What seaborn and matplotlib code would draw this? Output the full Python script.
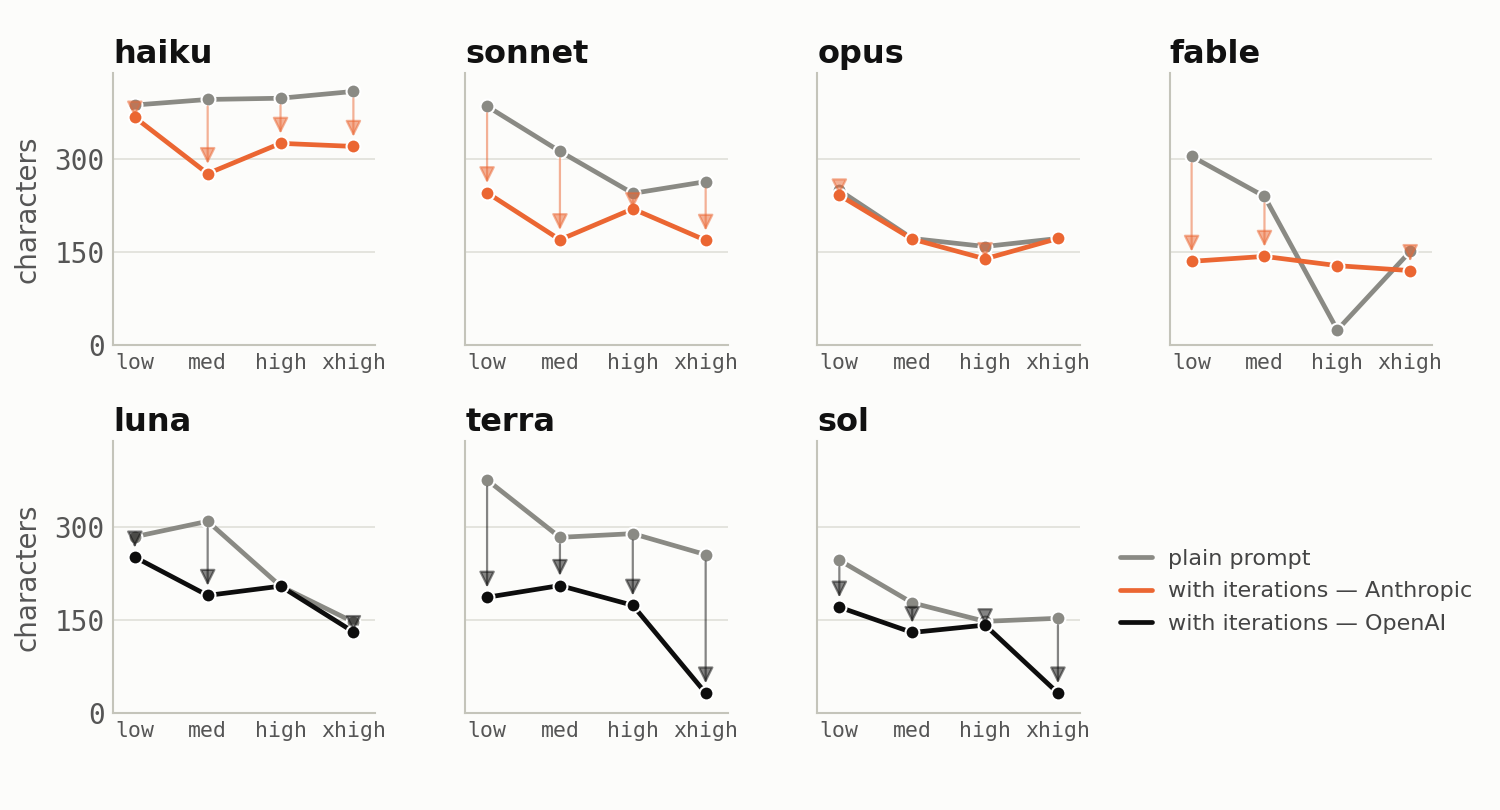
import matplotlib
matplotlib.use("Agg")
import matplotlib.pyplot as plt
from matplotlib.lines import Line2D
import pandas as pd
import seaborn as sns

levels = ["low", "med", "high", "xhigh"]

# plain prompt vs with iterations, chars
anthropic_models = ["haiku", "sonnet", "opus", "fable"]
openai_models = ["luna", "terra", "sol"]

plain = {
    "haiku": [388, 397, 399, 410],
    "sonnet": [386, 313, 245, 264],
    "opus": [250, 172, 159, 172],
    "fable": [305, 240, 24, 151],
    "luna": [285, 310, 205, 147],
    "terra": [377, 284, 290, 256],
    "sol": [247, 178, 148, 153],
}
iterated = {
    "haiku": [368, 277, 326, 321],
    "sonnet": [246, 170, 220, 169],
    "opus": [242, 171, 139, 172],
    "fable": [135, 143, 128, 120],
    "luna": [252, 190, 205, 131],
    "terra": [187, 206, 174, 32],
    "sol": [171, 130, 142, 32],
}

bg = "#fcfcfa"
gray = "#8a8a84"
orange = "#eb6632"
black = "#0d0d0d"
spine_c = "#c4c4ba"
grid_c = "#e2e2dc"
tick_c = "#555555"

sns.set_theme(style="white")
plt.rcParams["font.family"] = ["DejaVu Sans"]

fig, axes = plt.subplots(2, 4, figsize=(15, 8.1), dpi=100, sharey=True, facecolor=bg)
plt.subplots_adjust(left=0.0753, right=0.9547, top=0.91, bottom=0.12, wspace=0.343, hspace=0.354)

panels = [(m, orange) for m in anthropic_models] + [(m, black) for m in openai_models]

for ax, (model, col) in zip(axes.flat, panels):
    ax.set_facecolor(bg)
    df = pd.DataFrame({"level": levels * 2,
                       "chars": plain[model] + iterated[model],
                       "kind": ["plain"] * 4 + ["iter"] * 4})
    sns.lineplot(data=df[df["kind"] == "plain"], x="level", y="chars", ax=ax, color=gray,
                 lw=3.4, marker="o", markersize=10, markeredgecolor="white", markeredgewidth=1.5,
                 sort=False, zorder=3)
    sns.lineplot(data=df[df["kind"] == "iter"], x="level", y="chars", ax=ax, color=col,
                 lw=3.4, marker="o", markersize=10, markeredgecolor="white", markeredgewidth=1.5,
                 sort=False, zorder=4)
    # arrow only where iterating made it shorter
    for i in range(len(levels)):
        p, q = plain[model][i], iterated[model][i]
        if p - q > 3:
            ax.annotate("", xy=(i, q), xytext=(i, p),
                        arrowprops=dict(arrowstyle="-|>,head_length=0.8,head_width=0.4", color=col,
                                        alpha=0.5, lw=1.6, shrinkA=5, shrinkB=7),
                        zorder=5)
    ax.set_title(model, loc="left", fontsize=23, fontweight="bold", color="#111111", pad=7)
    ax.set_xlim(-0.3, 3.3)
    ax.set_ylim(0, 440)
    ax.set_yticks([0, 150, 300])
    ax.yaxis.grid(True, color=grid_c, lw=1.3)
    ax.set_axisbelow(True)
    ax.set_xlabel("")
    ax.set_ylabel("")
    for s in ["top", "right"]:
        ax.spines[s].set_visible(False)
    for s in ["left", "bottom"]:
        ax.spines[s].set_color(spine_c)
        ax.spines[s].set_linewidth(1.5)
    ax.tick_params(axis="x", length=0, pad=6, labelsize=15.5, labelcolor=tick_c, labelbottom=True)
    ax.tick_params(axis="y", length=0, pad=6, labelsize=20, labelcolor=tick_c)
    for lab in ax.get_xticklabels() + ax.get_yticklabels():
        lab.set_family("DejaVu Sans Mono")

for ax in axes[:, 0]:
    ax.set_ylabel("characters", fontsize=20, color=tick_c, labelpad=9)

axes[1, 3].axis("off")

handles = [Line2D([], [], color=gray, lw=3.4),
           Line2D([], [], color=orange, lw=3.4),
           Line2D([], [], color=black, lw=3.4)]
labels = ["plain prompt", "with iterations — Anthropic", "with iterations — OpenAI"]
fig.legend(handles, labels, loc="center left", bbox_to_anchor=(0.7335, 0.27), frameon=False,
           fontsize=16, labelcolor="#444444", handlelength=1.45, handletextpad=0.7, labelspacing=0.55)

fig.savefig("out.png", dpi=100, facecolor=bg)
